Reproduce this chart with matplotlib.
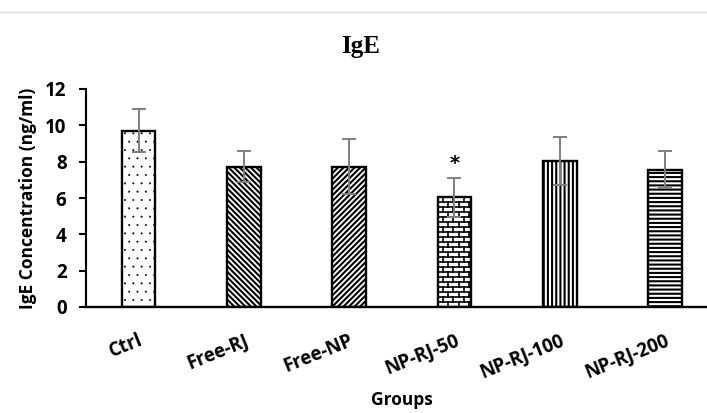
import matplotlib

matplotlib.use("Agg")
import matplotlib.pyplot as plt
from matplotlib.lines import Line2D

groups = ["Ctrl", "Free-RJ", "Free-NP", "NP-RJ-50", "NP-RJ-100", "NP-RJ-200"]
means = [9.70, 7.73, 7.73, 6.03, 8.02, 7.56]
errors = [1.18, 0.87, 1.51, 1.07, 1.33, 1.00]
hatches = ["..", "\\\\\\\\\\\\", "//////", "", "||||", "----"]
hatch_widths = [0.2, 1.5, 1.5, 1.5, 1.5, 1.5]
significant = [False, False, False, True, False, False]

plt.rcParams["font.family"] = ["Open Sans", "DejaVu Sans"]

fig = plt.figure(figsize=(7.07, 4.13), dpi=100)
ax = fig.add_axes([86 / 707, 106 / 413, 631.6 / 707, 218 / 413])

x = list(range(len(groups)))
bars = []
for xi, m, h, hw in zip(x, means, hatches, hatch_widths):
    with plt.rc_context({"hatch.linewidth": hw}):
        b = ax.bar(xi, m, width=0.32, color="white", edgecolor="black",
                   linewidth=1.7, hatch=h, zorder=2)
    bars.append(b[0])

# brick pattern for NP-RJ-50, clipped to its bar
brick = bars[3]
bx, bw, bh = brick.get_x(), brick.get_width(), brick.get_height()
row_h = bh / 22.0
row = 0
yy = 0.0
while yy < bh:
    ax.plot([bx, bx + bw], [yy, yy], color="black", lw=1.2, zorder=3,
            clip_path=brick)
    step = bw / 3.2
    start = bx + (step / 2 if row % 2 else 0)
    xx = start
    while xx < bx + bw:
        ax.plot([xx, xx], [yy, yy + row_h], color="black", lw=1.2, zorder=3,
                clip_path=brick)
        xx += step
    yy += row_h
    row += 1

ax.errorbar(x, means, yerr=errors, fmt="none", ecolor="#7f7f7f",
            elinewidth=1.4, capsize=5, capthick=1.4, zorder=4)

for xi, m, e, s in zip(x, means, errors, significant):
    if s:
        ax.text(xi, m + e + 0.25, "*", ha="center", va="bottom",
                fontsize=14, fontweight="bold", family="DejaVu Sans")

ax.set_xlim(-0.5, 5.5)
ax.set_ylim(0, 12)
ax.set_yticks([0, 2, 4, 6, 8, 10, 12])
ax.spines["top"].set_visible(False)
ax.spines["right"].set_visible(False)
ax.spines["left"].set_linewidth(1.5)
ax.spines["bottom"].set_linewidth(1.7)
ax.tick_params(axis="y", direction="out", length=5, width=1.5,
               labelsize=13.5, pad=9)
ax.tick_params(axis="x", length=0, pad=17)
for lab in ax.get_yticklabels():
    lab.set_fontweight("bold")

ax.set_xticks(x)
ax.set_xticklabels(groups, rotation=22, ha="right", rotation_mode="anchor",
                   fontsize=13.5, fontweight="bold")

ax.set_ylabel("IgE Concentration (ng/ml)", fontsize=12.5, fontweight="bold",
              va="center")
ax.yaxis.set_label_coords(-0.092, 0.5)
ax.set_xlabel("Groups", fontsize=12.5, fontweight="bold", va="center")
ax.xaxis.set_label_coords(0.5, -0.427)

fig.text(361 / 707, 1 - 46 / 413, "IgE", ha="center", va="center",
         fontsize=18, fontweight="bold", family="Liberation Serif")
fig.add_artist(Line2D([0, 1], [1 - 12 / 413, 1 - 12 / 413],
                      transform=fig.transFigure, color="#d9d9d9", lw=1))

fig.savefig("out.png", dpi=100)
